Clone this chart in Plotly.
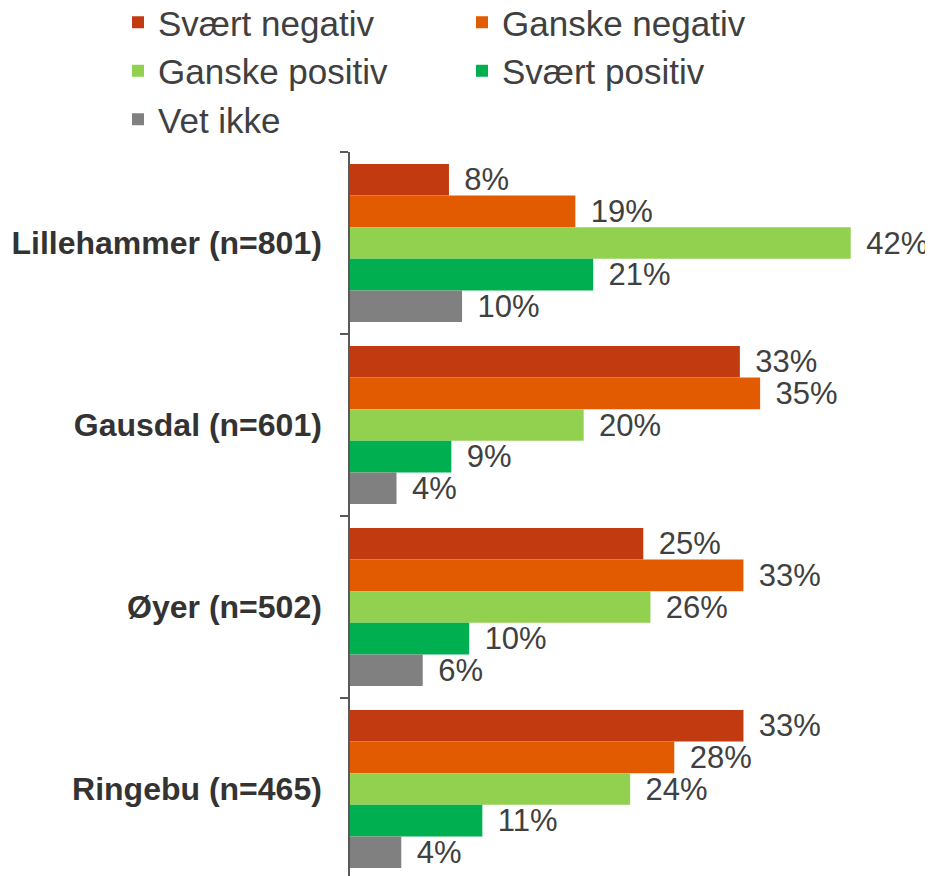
import plotly.graph_objects as go

categories = ["Lillehammer (n=801)", "Gausdal (n=601)", "Øyer (n=502)", "Ringebu (n=465)"]
series_names = ["Svært negativ", "Ganske negativ", "Ganske positiv", "Svært positiv", "Vet ikke"]
colors = ["#C23A0F", "#E35B00", "#92D050", "#00B050", "#808080"]
legend_column = ["legend", "legend2", "legend", "legend2", "legend"]

# values (percent)
svaert_negativ = [8.3, 32.7, 24.6, 33.0]
ganske_negativ = [18.9, 34.4, 33.0, 27.2]
ganske_positiv = [42.0, 19.6, 25.2, 23.5]
svaert_positiv = [20.4, 8.5, 10.0, 11.1]
vet_ikke = [9.4, 3.9, 6.1, 4.3]

# printed data labels
lbl_svaert_negativ = ["8%", "33%", "25%", "33%"]
lbl_ganske_negativ = ["19%", "35%", "33%", "28%"]
lbl_ganske_positiv = ["42%", "20%", "26%", "24%"]
lbl_svaert_positiv = ["21%", "9%", "10%", "11%"]
lbl_vet_ikke = ["10%", "4%", "6%", "4%"]

values = [svaert_negativ, ganske_negativ, ganske_positiv, svaert_positiv, vet_ikke]
labels = [lbl_svaert_negativ, lbl_ganske_negativ, lbl_ganske_positiv, lbl_svaert_positiv, lbl_vet_ikke]

FONT = "Liberation Sans, Arial, sans-serif"

fig = go.Figure()
for name, col, vals, lbls, lg in zip(series_names, colors, values, labels, legend_column):
    fig.add_trace(go.Bar(
        y=categories, x=vals, name=name, orientation="h",
        marker=dict(color=col, line=dict(width=0)),
        text=lbls, texttemplate="\u2009\u2009%{text}", textposition="outside",
        constraintext="none", cliponaxis=False,
        textfont=dict(family=FONT, size=31, color="#404040"),
        hoverinfo="skip", legend=lg,
    ))

legend_common = dict(
    orientation="v", xref="container", yref="paper",
    yanchor="top", xanchor="left",
    font=dict(family=FONT, size=35, color="#404040"),
    traceorder="normal", bgcolor="rgba(0,0,0,0)", tracegroupgap=0,
)

fig.update_layout(
    width=933, height=876,
    margin=dict(l=342, r=8, t=144, b=8, autoexpand=False),
    barmode="group", bargap=0.132, bargroupgap=0,
    plot_bgcolor="white", paper_bgcolor="white",
    font=dict(family=FONT, color="#404040"),
    showlegend=True,
    legend=dict(legend_common, x=110 / 933, y=1 + 159 / 724),
    legend2=dict(legend_common, x=454 / 933, y=1 + 159 / 724),
    xaxis=dict(range=[0, 48.9], visible=False, showgrid=False, zeroline=False),
    yaxis=dict(
        type="category", categoryorder="array", categoryarray=categories,
        range=[3.478, -0.5], tickson="boundaries", ticks="outside", ticklen=8,
        tickcolor="#595959", tickwidth=1.5,
        showline=True, linecolor="#595959", linewidth=1.5,
        showgrid=False, zeroline=False,
        ticklabelstandoff=20,
        tickfont=dict(family=FONT, size=32, color="#333333", weight="bold"),
    ),
)

fig.write_html("out.html")
